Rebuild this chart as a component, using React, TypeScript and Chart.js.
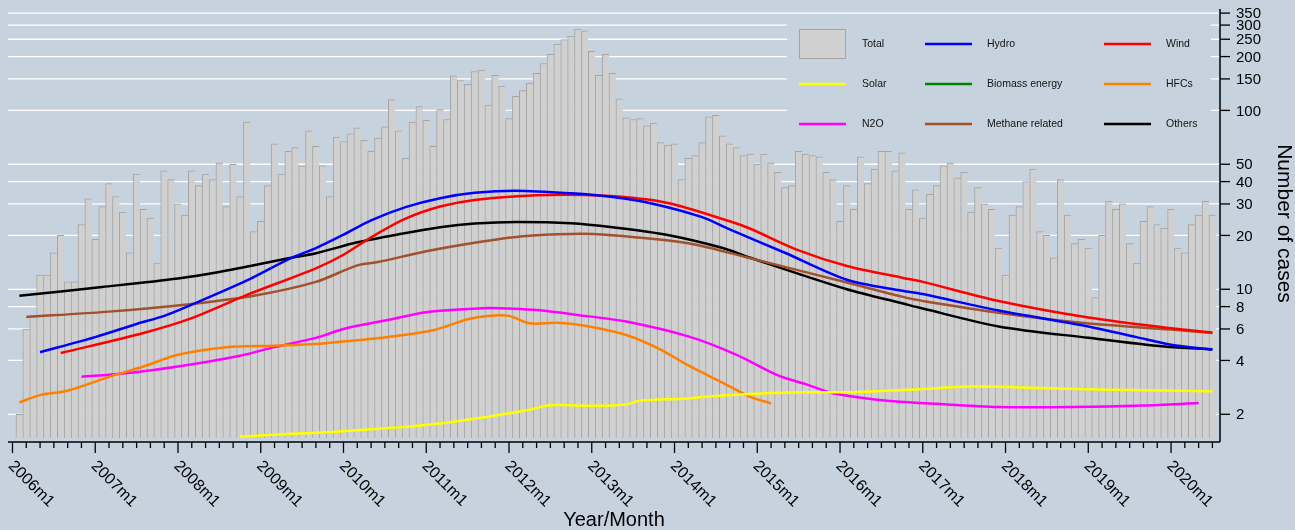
import React, { useEffect, useRef } from "react";
import { Chart, registerables } from "chart.js";

Chart.register(...registerables);

// ---------------- data ----------------
const FIRST_YEAR = 2006;
// month index 0 = 2006m1; the bars start at 2006m2
const BAR_START_INDEX = 1;
const totalCases = [
  2, 6, 7, 12, 12, 16, 20, 11, 11, 23, 32, 19, 29, 39, 33, 27, 16, 44, 28, 25,
  14, 46, 41, 30, 26, 46, 38, 44, 41, 51, 29, 50, 33, 86, 21, 24, 38, 65, 44, 59,
  62, 49, 77, 63, 49, 33, 71, 67, 74, 80, 68, 59, 70, 81, 115, 77, 54, 86, 105, 88,
  63, 101, 89, 156, 147, 140, 165, 168, 107, 157, 137, 90, 120, 129, 142, 161, 183, 206, 235, 249,
  260, 285, 279, 214, 157, 206, 161, 116, 91, 89, 90, 82, 85, 66, 64, 65, 41, 54, 56, 66,
  92, 94, 72, 65, 62, 56, 57, 50, 57, 51, 45, 37, 38, 59, 57, 56, 55, 45, 41, 24,
  38, 28, 55, 39, 47, 59, 59, 46, 58, 28, 36, 25, 34, 38, 49, 51, 42, 45, 27, 37,
  30, 28, 17, 12, 26, 29, 40, 47, 21, 20, 15, 41, 26, 18, 19, 17, 9, 20, 31, 28,
  30, 18, 14, 24, 29, 23, 22, 28, 17, 16, 23, 26, 31, 26,
];

// smoothed series: [month index, cases]
const hydro: [number, number][] = [
  [4, 4.45], [12, 5.4], [18, 6.4], [22, 7.1], [26, 8.2], [34, 11.2], [40, 14.7], [44, 17.0],
  [48, 20.2], [52, 24.3], [57, 28.8], [62, 32.3], [67, 34.6], [73, 35.6], [81, 34.4], [87, 32.8],
  [93, 30.0], [100, 25.3], [104, 21.6], [112, 16.0], [121, 11.3], [129, 9.8], [132, 9.4],
  [143, 7.6], [156, 6.2], [163, 5.4], [168, 4.9], [174, 4.6],
];
const wind: [number, number][] = [
  [7, 4.4], [19, 5.7], [26, 6.9], [34, 9.3], [44, 13.1], [48, 15.6], [52, 19.5], [57, 24.8],
  [62, 29.0], [67, 31.6], [76, 33.6], [86, 33.3], [95, 30.4], [104, 24.0], [107, 21.8],
  [114, 16.5], [121, 13.5], [129, 11.6], [132, 11.0], [143, 8.6], [156, 6.95], [168, 6.05], [174, 5.72],
];
const solar: [number, number][] = [
  [33, 1.5], [40, 1.55], [47, 1.6], [55, 1.68], [61, 1.76], [69, 1.94], [75, 2.12], [78, 2.25],
  [84, 2.23], [89, 2.27], [91, 2.38], [98, 2.45], [100, 2.5], [107, 2.6], [113, 2.65],
  [122, 2.66], [131, 2.75], [139, 2.86], [149, 2.81], [159, 2.74], [174, 2.69],
];
const biomass: [number, number][] = [];
const hfcs: [number, number][] = [
  [1, 2.33], [4, 2.56], [8, 2.71], [14, 3.24], [19, 3.7], [24, 4.3], [31, 4.74], [38, 4.84],
  [44, 4.94], [48, 5.1], [55, 5.45], [61, 5.9], [66, 6.8], [69, 7.1], [72, 7.1], [75, 6.45],
  [79, 6.5], [83, 6.25], [89, 5.55], [94, 4.6], [98, 3.75], [103, 3.0], [107, 2.5], [110, 2.3],
];
const n2o: [number, number][] = [
  [10, 3.24], [16, 3.38], [24, 3.7], [33, 4.25], [38, 4.75], [44, 5.35], [48, 6.0], [55, 6.8],
  [60, 7.45], [69, 7.85], [72, 7.8], [76, 7.65], [83, 7.1], [89, 6.6], [98, 5.45], [105, 4.3],
  [111, 3.3], [115, 2.95], [119, 2.62], [126, 2.4], [134, 2.29], [143, 2.2], [154, 2.2],
  [164, 2.24], [172, 2.31],
];
const methane: [number, number][] = [
  [2, 7.0], [14, 7.5], [25, 8.2], [35, 9.2], [44, 11.0], [50, 13.6], [53, 14.2], [60, 16.3],
  [67, 18.2], [74, 19.8], [81, 20.4], [86, 20.2], [98, 18.1], [107, 14.9], [121, 10.9],
  [129, 9.1], [132, 8.6], [144, 7.3], [155, 6.5], [168, 5.95], [174, 5.7],
];
const others: [number, number][] = [
  [1, 9.2], [13, 10.3], [24, 11.5], [30, 12.5], [40, 14.9], [44, 15.9], [50, 18.3], [56, 20.3],
  [62, 22.2], [67, 23.3], [73, 23.8], [81, 23.4], [87, 22.2], [95, 20.1], [103, 17.0],
  [107, 15.0], [121, 10.0], [129, 8.35], [132, 7.8], [143, 6.2], [156, 5.35], [167, 4.78], [174, 4.62],
];

const yTickValues = [2, 4, 6, 8, 10, 20, 30, 40, 50, 100, 150, 200, 250, 300, 350];
const xYearLabels = [
  "2006m1", "2007m1", "2008m1", "2009m1", "2010m1", "2011m1", "2012m1", "2013m1",
  "2014m1", "2015m1", "2016m1", "2017m1", "2018m1", "2019m1", "2020m1",
];
const legendItems = [
  "Total", "Hydro", "Wind",
  "Solar", "Biomass energy", "HFCs",
  "N2O", "Methane related", "Others",
];

// ---------------- styling ----------------
const FONT = '"Liberation Sans", Arial, Helvetica, sans-serif';
const BG = "rgb(198,211,222)";
const BAR_FILL = "#d0d0d0";
const BAR_EDGE = "#a4a4a4";
const seriesColors: Record<string, string> = {
  Hydro: "#0000ff",
  Wind: "#ff0000",
  Solar: "#ffff00",
  "Biomass energy": "#008000",
  HFCs: "#ff8000",
  N2O: "#ff00ff",
  "Methane related": "#a0522d",
  Others: "#000000",
};
const seriesData: Record<string, [number, number][]> = {
  Hydro: hydro,
  Wind: wind,
  Solar: solar,
  "Biomass energy": biomass,
  HFCs: hfcs,
  N2O: n2o,
  "Methane related": methane,
  Others: others,
};

const decorPlugin = {
  id: "decor",
  beforeDraw(chart: any) {
    const { ctx, chartArea: a, scales } = chart;
    const ys = scales.y;
    ctx.save();
    ctx.fillStyle = BG;
    ctx.fillRect(0, 0, chart.width, chart.height);
    // grid lines
    ctx.strokeStyle = "#ffffff";
    ctx.lineWidth = 1.3;
    for (const v of yTickValues) {
      const py = ys.getPixelForValue(v);
      ctx.beginPath();
      ctx.moveTo(a.left, py);
      ctx.lineTo(a.right, py);
      ctx.stroke();
    }
    // legend background
    ctx.fillStyle = BG;
    ctx.fillRect(787, 17, 424, 126);
    ctx.restore();
  },
  afterDraw(chart: any) {
    const { ctx, chartArea: a, scales } = chart;
    const xs = scales.x;
    const ys = scales.y;
    ctx.save();
    const axisX = a.right;
    const axisY = a.bottom + 4;
    ctx.strokeStyle = "#000";
    ctx.fillStyle = "#000";
    // y axis
    ctx.lineWidth = 1.5;
    ctx.beginPath();
    ctx.moveTo(axisX, a.top);
    ctx.lineTo(axisX, axisY);
    ctx.stroke();
    ctx.lineWidth = 1.3;
    ctx.font = `15px ${FONT}`;
    ctx.textAlign = "left";
    ctx.textBaseline = "middle";
    for (const v of yTickValues) {
      const py = ys.getPixelForValue(v);
      ctx.beginPath();
      ctx.moveTo(axisX, py);
      ctx.lineTo(axisX + 10, py);
      ctx.stroke();
      ctx.fillText(String(v), axisX + 16, py + 1);
    }
    // x axis
    ctx.lineWidth = 1.5;
    ctx.beginPath();
    ctx.moveTo(a.left, axisY);
    ctx.lineTo(axisX, axisY);
    ctx.stroke();
    ctx.lineWidth = 1.3;
    for (let m = 0; m <= 174; m += 2) {
      const px = xs.getPixelForValue(m);
      const len = m % 12 === 0 ? 11 : 6;
      ctx.beginPath();
      ctx.moveTo(px, axisY);
      ctx.lineTo(px, axisY + len);
      ctx.stroke();
    }
    ctx.font = `16px ${FONT}`;
    ctx.textAlign = "left";
    ctx.textBaseline = "top";
    xYearLabels.forEach((lab, i) => {
      const px = xs.getPixelForValue(i * 12);
      ctx.save();
      ctx.translate(px + 4, axisY + 16);
      ctx.rotate(Math.PI / 4);
      ctx.fillText(lab, 0, 0);
      ctx.restore();
    });
    // titles
    ctx.font = `20px ${FONT}`;
    ctx.textAlign = "center";
    ctx.textBaseline = "middle";
    ctx.fillText("Year/Month", (a.left + a.right) / 2, 520);
    ctx.save();
    ctx.translate(1284, (a.top + a.bottom) / 2);
    ctx.rotate(Math.PI / 2);
    ctx.font = `21px ${FONT}`;
    ctx.fillText("Number of cases", 0, 0);
    ctx.restore();

    // legend
    const colSym = [799, 925, 1104];
    const colText = [862, 987, 1166];
    const rowY = [44, 84, 124];
    ctx.font = `10.5px ${FONT}`;
    ctx.textAlign = "left";
    ctx.textBaseline = "middle";
    legendItems.forEach((name, i) => {
      const r = Math.floor(i / 3);
      const c = i % 3;
      const x0 = colSym[c];
      const yy = rowY[r];
      if (name === "Total") {
        ctx.fillStyle = BAR_FILL;
        ctx.fillRect(x0, yy - 15, 47, 30);
        ctx.strokeStyle = BAR_EDGE;
        ctx.lineWidth = 1;
        ctx.strokeRect(x0 + 0.5, yy - 14.5, 46, 29);
      } else {
        ctx.strokeStyle = seriesColors[name];
        ctx.lineWidth = 2.5;
        ctx.beginPath();
        ctx.moveTo(x0, yy);
        ctx.lineTo(x0 + 47, yy);
        ctx.stroke();
      }
      ctx.fillStyle = "#111";
      ctx.fillText(name, colText[c], yy);
    });
    ctx.restore();
  },
};

export default function App() {
  const canvasRef = useRef<HTMLCanvasElement | null>(null);

  useEffect(() => {
    const canvas = canvasRef.current;
    if (!canvas) return;
    const lineSets = Object.keys(seriesData).map((name) => ({
      type: "line" as const,
      label: name,
      data: seriesData[name].map(([x, y]) => ({ x, y })),
      borderColor: seriesColors[name],
      backgroundColor: seriesColors[name],
      borderWidth: 2.5,
      pointRadius: 0,
      fill: false,
      tension: 0.3,
      order: 1,
    }));
    const chart = new Chart(canvas, {
      type: "bar",
      data: {
        datasets: [
          {
            type: "bar",
            label: "Total",
            data: totalCases.map((v, i) => ({ x: i + BAR_START_INDEX, y: v })),
            backgroundColor: BAR_FILL,
            borderColor: BAR_EDGE,
            borderWidth: { top: 1, left: 1, right: 0, bottom: 0 },
            barPercentage: 1,
            categoryPercentage: 1,
            order: 10,
          } as any,
          ...lineSets,
        ],
      },
      options: {
        responsive: false,
        animation: false,
        devicePixelRatio: 1,
        events: [],
        layout: { padding: { left: 8, top: 9, right: 75, bottom: 92 } },
        plugins: {
          legend: { display: false },
          tooltip: { enabled: false },
          title: { display: false },
        },
        scales: {
          x: { type: "linear", min: -0.65, max: 175.1, display: false, offset: false },
          y: { type: "logarithmic", min: 1.474, max: 369, display: false },
        },
      },
      plugins: [decorPlugin],
    });
    return () => chart.destroy();
  }, []);

  return (
    <div style={{ position: "fixed", left: 0, top: 0, width: 1295, height: 530 }}>
      <canvas ref={canvasRef} width={1295} height={530} style={{ width: 1295, height: 530 }} />
    </div>
  );
}
